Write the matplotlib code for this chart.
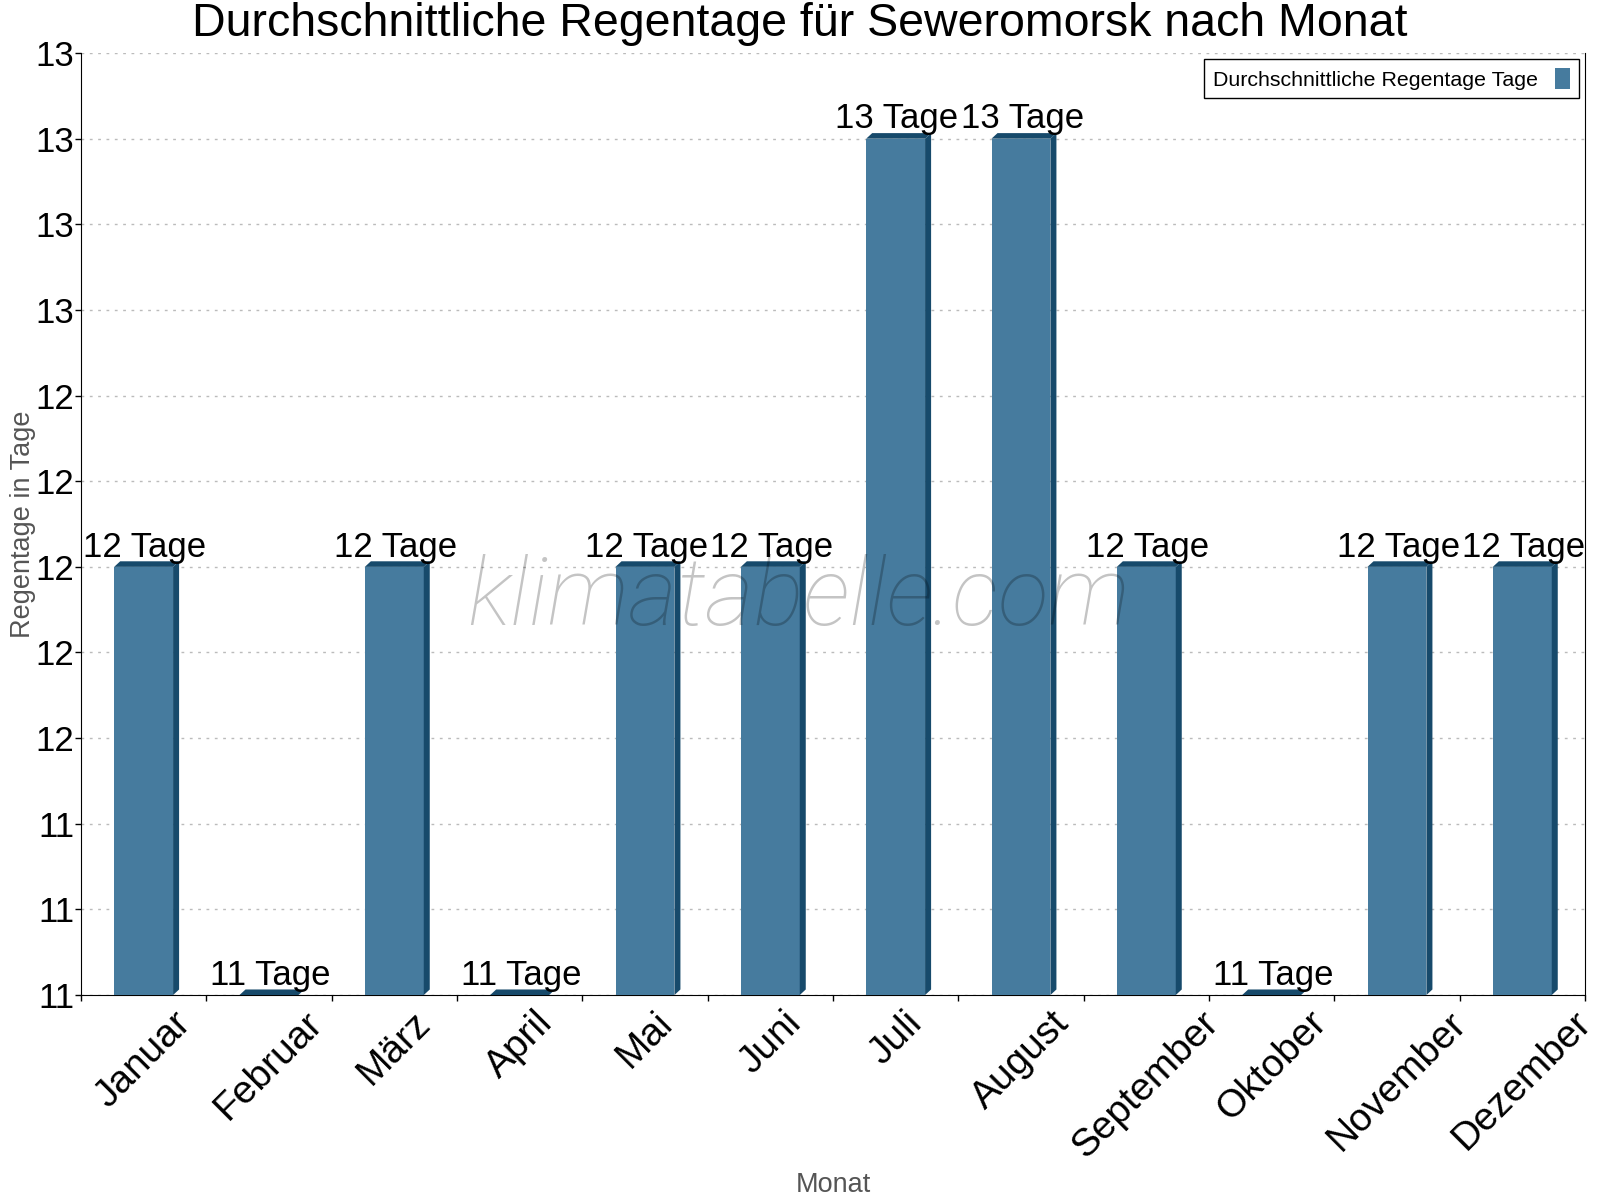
import matplotlib
matplotlib.use('Agg')
import matplotlib.pyplot as plt
from matplotlib.patches import Polygon
from matplotlib.ticker import FuncFormatter, MultipleLocator
import numpy as np

plt.rcParams['font.family'] = ['Liberation Sans', 'DejaVu Sans']

# Daten
months = ['Januar', 'Februar', 'März', 'April', 'Mai', 'Juni', 'Juli',
          'August', 'September', 'Oktober', 'November', 'Dezember']
rain_days = [12, 11, 12, 11, 12, 12, 13, 13, 12, 11, 12, 12]
y_min, y_max = 11.0, 13.2

FACE = '#467b9e'
DARK = '#174a6b'

fig = plt.figure(figsize=(16, 12), dpi=100)
ax = fig.add_axes([0.0506, 0.1708, 0.94, 0.785])

x = np.arange(len(months))
width = 0.47
bars = ax.bar(x, [v - y_min for v in rain_days], width, bottom=y_min,
              color=FACE, edgecolor='none', zorder=3,
              label='Durchschnittliche Regentage Tage')

# pseudo 3D: side and top face
dx = 0.048
dy = 0.013
for xi, v in zip(x, rain_days):
    x0, x1 = xi - width / 2, xi + width / 2
    side = Polygon([(x1, y_min), (x1 + dx, y_min + dy), (x1 + dx, v + dy), (x1, v)],
                   closed=True, facecolor=DARK, edgecolor='none', zorder=3)
    top = Polygon([(x0, v), (x0 + dx, v + dy), (x1 + dx, v + dy), (x1, v)],
                  closed=True, facecolor=DARK, edgecolor='none', zorder=3)
    ax.add_patch(side)
    ax.add_patch(top)
    ax.text(xi + 0.01, v + 0.024, f'{v} Tage', ha='center', va='baseline',
            fontsize=25, color='black', zorder=4)

ax.set_xlim(-0.5, len(months) - 0.5)
ax.set_ylim(y_min, y_max)
ax.yaxis.set_major_locator(MultipleLocator(0.2))
ax.yaxis.set_major_formatter(FuncFormatter(lambda v, p: f'{v:.0f}'))
ax.grid(axis='y', linestyle=(0, (2, 4)), color='#bbbbbb', linewidth=1, zorder=0)

ax.set_xticks(x)
ax.set_xticklabels(months, rotation=45, ha='center', va='top', fontsize=28)
ax.set_xticks(np.arange(-0.5, len(months)), minor=True)
ax.tick_params(axis='x', which='major', length=0, pad=7)
ax.tick_params(axis='x', which='minor', length=4, width=1)
ax.tick_params(axis='y', labelsize=25, length=4, width=1, pad=1)

ax.spines['top'].set_visible(False)
ax.spines['right'].set_visible(True)

ax.set_xlabel('Monat', fontsize=19.5, color='#555555')
ax.xaxis.set_label_coords(0.5, -0.188)
ax.set_ylabel('Regentage in Tage', fontsize=19.5, color='#555555')
ax.yaxis.set_label_coords(-0.030, 0.5)
fig.suptitle('Durchschnittliche Regentage für Seweromorsk nach Monat',
             fontsize=33.5, x=0.5, y=0.998, va='top')

# watermark: thin, translucent
ax.text(0.477, 0.42, 'klimatabelle.com', transform=ax.transAxes, fontsize=67.5,
        family=['Roboto', 'Liberation Sans'], fontweight='light', style='italic',
        color='black', alpha=0.23, ha='center', va='center', zorder=5)

leg = ax.legend(loc='upper right', fontsize=15.4, markerfirst=False, fancybox=False,
                edgecolor='black', framealpha=1, handlelength=0.7, handleheight=1.1,
                borderaxespad=0.3)
leg.get_frame().set_linewidth(1)

fig.savefig('out.png', dpi=100)
